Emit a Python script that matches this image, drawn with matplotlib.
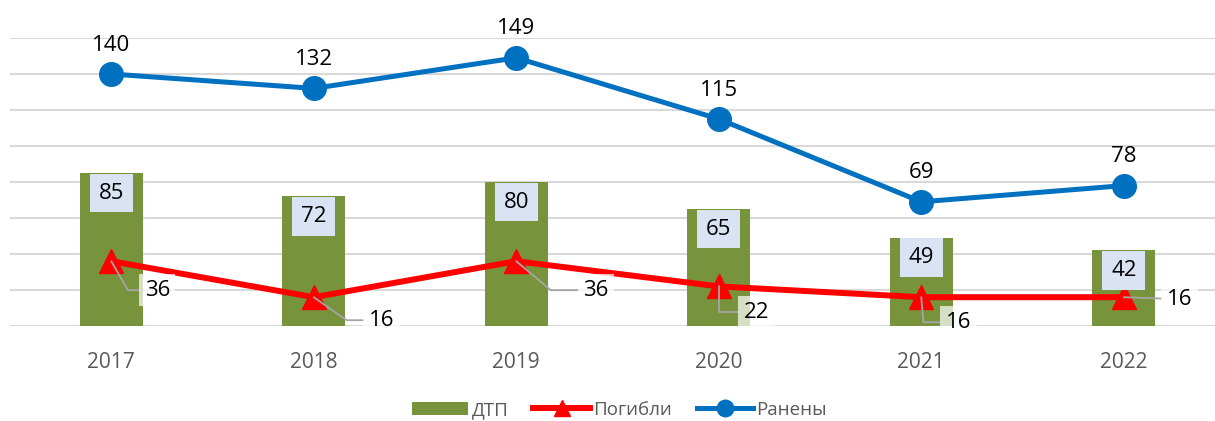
import numpy as np
import matplotlib.pyplot as plt

years = ["2017", "2018", "2019", "2020", "2021", "2022"]
dtp = [85, 72, 80, 65, 49, 42]
killed = [36, 16, 36, 22, 16, 16]
injured = [140, 132, 149, 115, 69, 78]

plt.rcParams['font.family'] = ['Open Sans', 'DejaVu Sans']

fig = plt.figure(figsize=(12.15, 4.21), dpi=100)
ax = fig.add_axes([10 / 1215, 1 - 326 / 421, 1.0, 288 / 421])

x = np.arange(len(years))

bars = ax.bar(x, dtp, width=0.31, color='#77933c', label='ДТП', zorder=2)
red, = ax.plot(x, killed, color='#ff0000', lw=4.3, marker='^', ms=17,
               label='Погибли', zorder=3)
blue, = ax.plot(x, injured, color='#0070c0', lw=3.6, marker='o', ms=17,
                label='Ранены', zorder=3)

# bar labels in light boxes near the top of each bar
for xi, v in zip(x, dtp):
    ax.annotate(str(v), (xi, v), xytext=(0, -20), textcoords='offset pixels',
                ha='center', va='center', fontsize=16, color='black',
                bbox=dict(boxstyle='square,pad=0.4', fc='#dae3f3', ec='none'),
                zorder=5)

# injured labels above markers
for xi, v in zip(x, injured):
    ax.annotate(str(v), (xi, v), xytext=(0, 29), textcoords='offset pixels',
                ha='center', va='center', fontsize=16, color='black', zorder=5)

# killed labels with leader lines
offsets = [(46, -29, -60), (68, -23, -35), (80, -29, -40),
           (38, -26, -90), (37, -25, -85), (56, -2, None)]
for xi, v, (dx, dy, ang) in zip(x, killed, offsets):
    if ang is None:
        cs = 'arc3,rad=0'
    else:
        cs = 'angle,angleA=0,angleB=%d,rad=0' % ang
    ax.annotate(str(v), (xi, v), xytext=(dx, dy), textcoords='offset pixels',
                ha='center', va='center', fontsize=16, color='black',
                bbox=dict(boxstyle='square,pad=0.25', fc='white', ec='none', alpha=0.7),
                arrowprops=dict(arrowstyle='-', color='#a6a6a6', lw=1.3,
                                shrinkA=0, shrinkB=0, connectionstyle=cs),
                zorder=6)

ax.set_xlim(-0.5, 5.5)
ax.set_ylim(0, 160)
ax.set_yticks(np.arange(0, 161, 20))
ax.set_yticklabels([])
ax.tick_params(axis='y', length=0)
ax.tick_params(axis='x', length=0, pad=19, labelsize=15, labelcolor='#595959')
ax.set_xticks(x)
ax.set_xticklabels(years)
ax.grid(axis='y', color='#d9d9d9', lw=1.5, zorder=0)
for s in ax.spines.values():
    s.set_visible(False)

fig.legend([bars, red, blue], ['ДТП', 'Погибли', 'Ранены'],
           loc='center', bbox_to_anchor=(0.51, 0.026), ncol=3, frameon=False,
           fontsize=13.5, labelcolor='#595959', handlelength=3.0, markerscale=0.7,
           handletextpad=0.2, columnspacing=1.3)

fig.savefig('out.png', dpi=100)
